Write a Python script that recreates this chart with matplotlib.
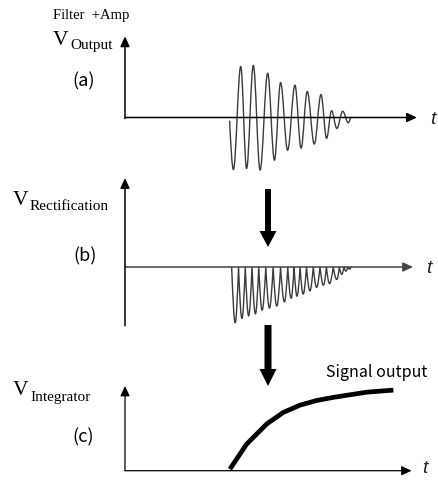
import matplotlib
matplotlib.use("Agg")
import matplotlib.pyplot as plt
from matplotlib.path import Path
from matplotlib.patches import PathPatch, FancyArrow

plt.rcParams['font.family'] = ['Noto Sans CJK KR', 'DejaVu Sans']

# (a) filter + amp output: extrema of the decaying oscillation (t, V)
out_t = [3.57, 3.70, 3.95, 4.15, 4.38, 4.61, 4.87, 5.10, 5.31, 5.55, 5.80,
         6.01, 6.22, 6.46, 6.69, 6.88, 7.05, 7.23, 7.43, 7.62, 7.70]
out_v = [-0.06, -1.00, 0.98, -0.98, 1.00, -1.01, 0.85, -0.82, 0.67, -0.63, 0.62,
         -0.59, 0.50, -0.51, 0.44, -0.40, 0.13, -0.21, 0.12, -0.10, 0.0]

# (b) rectified signal: dip centres and depths
rect_start, rect_end = 3.64, 7.72
rect_t = [3.76, 3.99, 4.22, 4.45, 4.68, 4.93, 5.18, 5.44, 5.67, 5.87,
          6.08, 6.31, 6.54, 6.77, 6.98, 7.23, 7.40, 7.54, 7.66]
rect_d = [1.07, 0.99, 0.94, 0.90, 0.83, 0.79, 0.75, 0.67, 0.60, 0.56,
          0.52, 0.46, 0.39, 0.35, 0.32, 0.24, 0.14, 0.08, 0.04]

# (c) integrator output
int_t = [3.58, 4.15, 4.84, 5.40, 5.97, 6.54, 7.11, 7.68, 8.25, 9.16]
int_v = [0.03, 0.51, 0.90, 1.12, 1.26, 1.35, 1.41, 1.46, 1.51, 1.55]

W, H = 439, 481
SX, SY = 29.3, 52.0   # pixels per t unit / per V unit

fig = plt.figure(figsize=(W / 100, H / 100), dpi=100)

over = fig.add_axes([0, 0, 1, 1])
over.set_xlim(0, W)
over.set_ylim(H, 0)
over.axis('off')


def panel(base, vlim, tlim=(-0.2, 10.3), x0=125):
    ax = fig.add_axes([(x0 + tlim[0] * SX) / W, 1 - (base - vlim[0] * SY) / H,
                       (tlim[1] - tlim[0]) * SX / W, (vlim[1] - vlim[0]) * SY / H])
    ax.set_xlim(tlim)
    ax.set_ylim(vlim)
    ax.axis('off')
    ax.patch.set_visible(False)
    return ax


def axis_arrow(ax, start, end, lw=1.1, color='black'):
    ax.annotate('', xy=end, xytext=start, annotation_clip=False,
                arrowprops=dict(arrowstyle='-|>,head_length=0.6,head_width=0.28',
                                mutation_scale=10, lw=lw, color=color,
                                shrinkA=0, shrinkB=0))


def quarter_up(p0, p1):
    # zero crossing -> extremum
    dx, dy = p1[0] - p0[0], p1[1] - p0[1]
    return [(p0[0] + 0.33 * dx, p0[1] + 0.52 * dy), (p0[0] + 0.64 * dx, p1[1]), p1]


def quarter_down(p0, p1):
    # extremum -> zero crossing
    dx, dy = p1[0] - p0[0], p1[1] - p0[1]
    return [(p0[0] + 0.36 * dx, p0[1]), (p1[0] - 0.33 * dx, p1[1] - 0.52 * dy), p1]


def half_wave(p0, p1, k=0.3642):
    dx = p1[0] - p0[0]
    return [(p0[0] + k * dx, p0[1]), (p1[0] - k * dx, p1[1]), p1]


# ---- (a)
axa = panel(118.5, (-1.15, 1.65))
axis_arrow(axa, (0, 0), (9.96, 0))
axis_arrow(axa, (0, -0.02), (0, 1.56))
pts = list(zip(out_t, out_v))
verts = [pts[0]] + quarter_up(pts[0], pts[1])
for i in range(2, len(pts) - 1):
    verts += half_wave(pts[i - 1], pts[i])
verts += quarter_down(pts[-2], pts[-1])
codes = [Path.MOVETO] + [Path.CURVE4] * (len(verts) - 1)
axa.add_patch(PathPatch(Path(verts, codes), fill=False, ec='#3c3c3c', lw=1.0))

# ---- (b)
axb = panel(268, (-1.2, 1.8))
axis_arrow(axb, (0, 0), (9.83, 0), color='#444444')
axis_arrow(axb, (0, -1.13), (0, 1.71))
zeros = [rect_start] + [(a + b) / 2 for a, b in zip(rect_t[:-1], rect_t[1:])] + [rect_end]
verts = [(zeros[0], 0)]
for i, (tc, d) in enumerate(zip(rect_t, rect_d)):
    verts += quarter_up((zeros[i], 0), (tc, -d))
    verts += quarter_down((tc, -d), (zeros[i + 1], 0))
codes = [Path.MOVETO] + [Path.CURVE4] * (len(verts) - 1)
axb.add_patch(PathPatch(Path(verts, codes), fill=False, ec='#3c3c3c', lw=1.0))

# ---- (c)
axc = panel(471.7, (-0.15, 1.72))
axis_arrow(axc, (0, 0), (9.78, 0), lw=0.9)
axis_arrow(axc, (0, 0), (0, 1.63), lw=0.9)
axc.plot(int_t, int_v, color='black', lw=3.4, solid_capstyle='butt',
         solid_joinstyle='round')

# ---- labels
serif = 'Liberation Serif'
over.text(53, 18.5, 'Filter  +Amp', family=serif, fontsize=10.5, va='baseline')
for x, y, sub, sx, sy in [(53, 45, 'Output', 70.5, 49.5),
                          (13, 205, 'Rectification', 29.5, 210),
                          (13, 395, 'Integrator', 30, 401)]:
    over.text(x, y, 'V', family=serif, fontsize=15.5, va='baseline')
    over.text(sx, sy, sub, family=serif, fontsize=11, va='baseline')

for x, y, s in [(84, 81, '(a)'), (85, 256, '(b)'), (83, 437, '(c)')]:
    over.text(x, y, s, fontsize=13, ha='center', va='center')

for x, y in [(432.5, 119.5), (428.5, 268.5), (424.5, 469)]:
    over.text(x, y, 't', family='Liberation Sans', style='italic', fontsize=14,
              ha='center', va='center', color='#1c2440')

over.text(326.5, 376.7, 'Signal output', fontsize=11.5, va='baseline')

# process arrows between panels
over.add_patch(FancyArrow(268, 190, 0, 58, width=6, head_width=17, head_length=16,
                          length_includes_head=True, color='black', lw=0))
over.add_patch(FancyArrow(268, 326, 0, 61, width=7, head_width=17, head_length=17,
                          length_includes_head=True, color='black', lw=0))

fig.savefig('out.png', dpi=100)
